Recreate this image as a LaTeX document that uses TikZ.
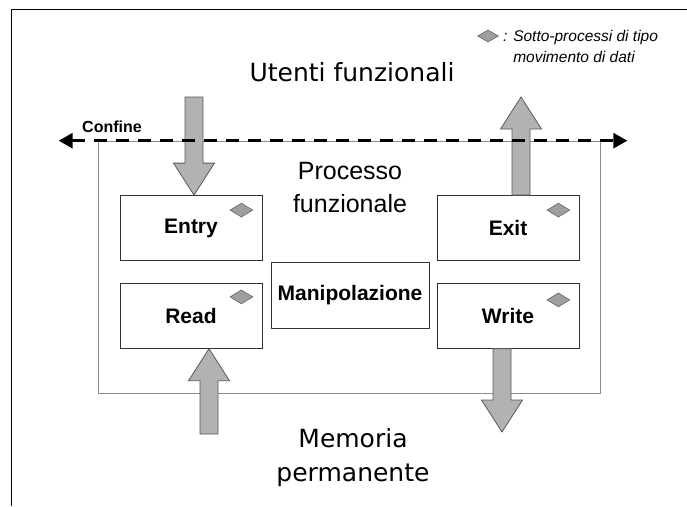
\documentclass[tikz,border=0pt]{standalone}
\usepackage{fontspec}
\setmainfont{Liberation Sans}
\newfontfamily\widefont{DejaVu Sans}
\usetikzlibrary{calc,positioning,arrows.meta,shapes.geometric}

\begin{document}
\begin{tikzpicture}
      [x=1pt, y=-1pt, inner sep=0pt,
      % STYLES
      % The stepbox style is used for the sub-processes of the functional process
      stepbox/.style={rectangle, draw=black!80, line width=0.8pt, fill=white, minimum width=142pt, minimum height=65pt, font=\bfseries\fontsize{21}{25}\selectfont},
      % The movement style marks a data movement sub-process
      movement/.style={diamond, draw=black!60, fill=black!38, line width=0.6pt, minimum width=23pt, minimum height=14pt},
      % The boundary of the functional process
      boundary/.style={rectangle, draw=black!45, line width=0.6pt, minimum width=502pt, minimum height=252pt},
      % Big labels outside the process
      bigtext/.style={align=center, font=\widefont\fontsize{25}{34}\selectfont},
      % The dataflow style draws a grey block arrow from start to target
      dataflow/.style={fill=black!30, draw=black!65, line width=0.8pt,
        to path={let \p1=(\tikztostart), \p2=(\tikztotarget), \p3=($(\p2)!32pt!(\p1)$) in
          ($(\p1)!9pt!90:(\p2)$) -- ($(\p3)!9pt!90:(\p2)$) -- ($(\p3)!20.5pt!90:(\p2)$) -- (\p2)
          -- ($(\p3)!20.5pt!-90:(\p2)$) -- ($(\p3)!9pt!-90:(\p2)$) -- ($(\p1)!9pt!-90:(\p2)$) -- cycle}},
      % The confine style is used for the dashed boundary line
      confine/.style={line width=3pt, dash pattern=on 13pt off 9pt, {Triangle[length=14pt,width=15pt]}-{Triangle[length=14pt,width=15pt]}}]

      \useasboundingbox (0,0) rectangle (687,506);
      \draw[line width=1pt] (11,506) -- (11,9) -- (687,9);

      % Draw process and sub-processes
      \node [boundary] (process) at (349,267) {};
      \node [stepbox] (entry) at (191,228) {Entry};
      \node [stepbox, below=22pt of entry] (read) {Read};
      \node [stepbox] (exit) at (508,228) {Exit};
      \node [stepbox, below=22pt of exit] (write) {Write};
      \node [stepbox, minimum width=158pt, minimum height=66pt] (manip) at (350,295) {Manipolazione};

      %%%%%%%%%%%%%%%
      % Marks
      \node [movement] (entryMark) at ($(entry.north east)+(-21,15)$) {};
      \node [movement] (readMark) at ($(read.north east)+(-21,14)$) {};
      \node [movement] (exitMark) at ($(exit.north east)+(-21,15)$) {};
      \node [movement] (writeMark) at ($(write.north east)+(-21,17)$) {};
      \node [movement, minimum width=21pt, minimum height=12pt] (legendMark) at (488,36) {};
      \node [anchor=north west, align=left, font=\itshape\fontsize{15.5}{21}\selectfont] (legendText) at (503,30.5)
        {: Sotto-processi di tipo\\\phantom{: }movimento di dati};

      %%%%%%%%%%%%%%%
      % Labels
      \node [bigtext, anchor=base] (users) at (352,81) {Utenti funzionali};
      \node [align=center, font=\fontsize{25}{33}\selectfont] (processLabel) at (350,188) {Processo\\funzionale};
      \node [bigtext] (storage) at (353,458) {Memoria\\permanente};
      \node [font=\bfseries\fontsize{16}{19}\selectfont] (confineLabel) at (112,127) {Confine};

      %%%%%%%%%%%%%%%%
      % Draw the data movements
      \coordinate (entryTail) at (194,97);
      \coordinate (exitTip) at (521,97);
      \coordinate (readTail) at (209,434);
      \coordinate (writeTip) at (502,432);
      \draw[dataflow] (entryTail) to (entryTail |- entry.north);
      \draw[dataflow] (exit.north -| exitTip) to (exitTip);
      \draw[dataflow] (readTail) to (readTail |- read.south);
      \draw[dataflow] (write.south -| writeTip) to (writeTip);

      % Draw the boundary line
      \coordinate (confineLeft) at ($(process.north west)+(-39,0)$);
      \coordinate (confineRight) at ($(process.north east)+(27,0)$);
      \draw[confine] (confineLeft) -- (confineRight);

    \end{tikzpicture}
\end{document}
